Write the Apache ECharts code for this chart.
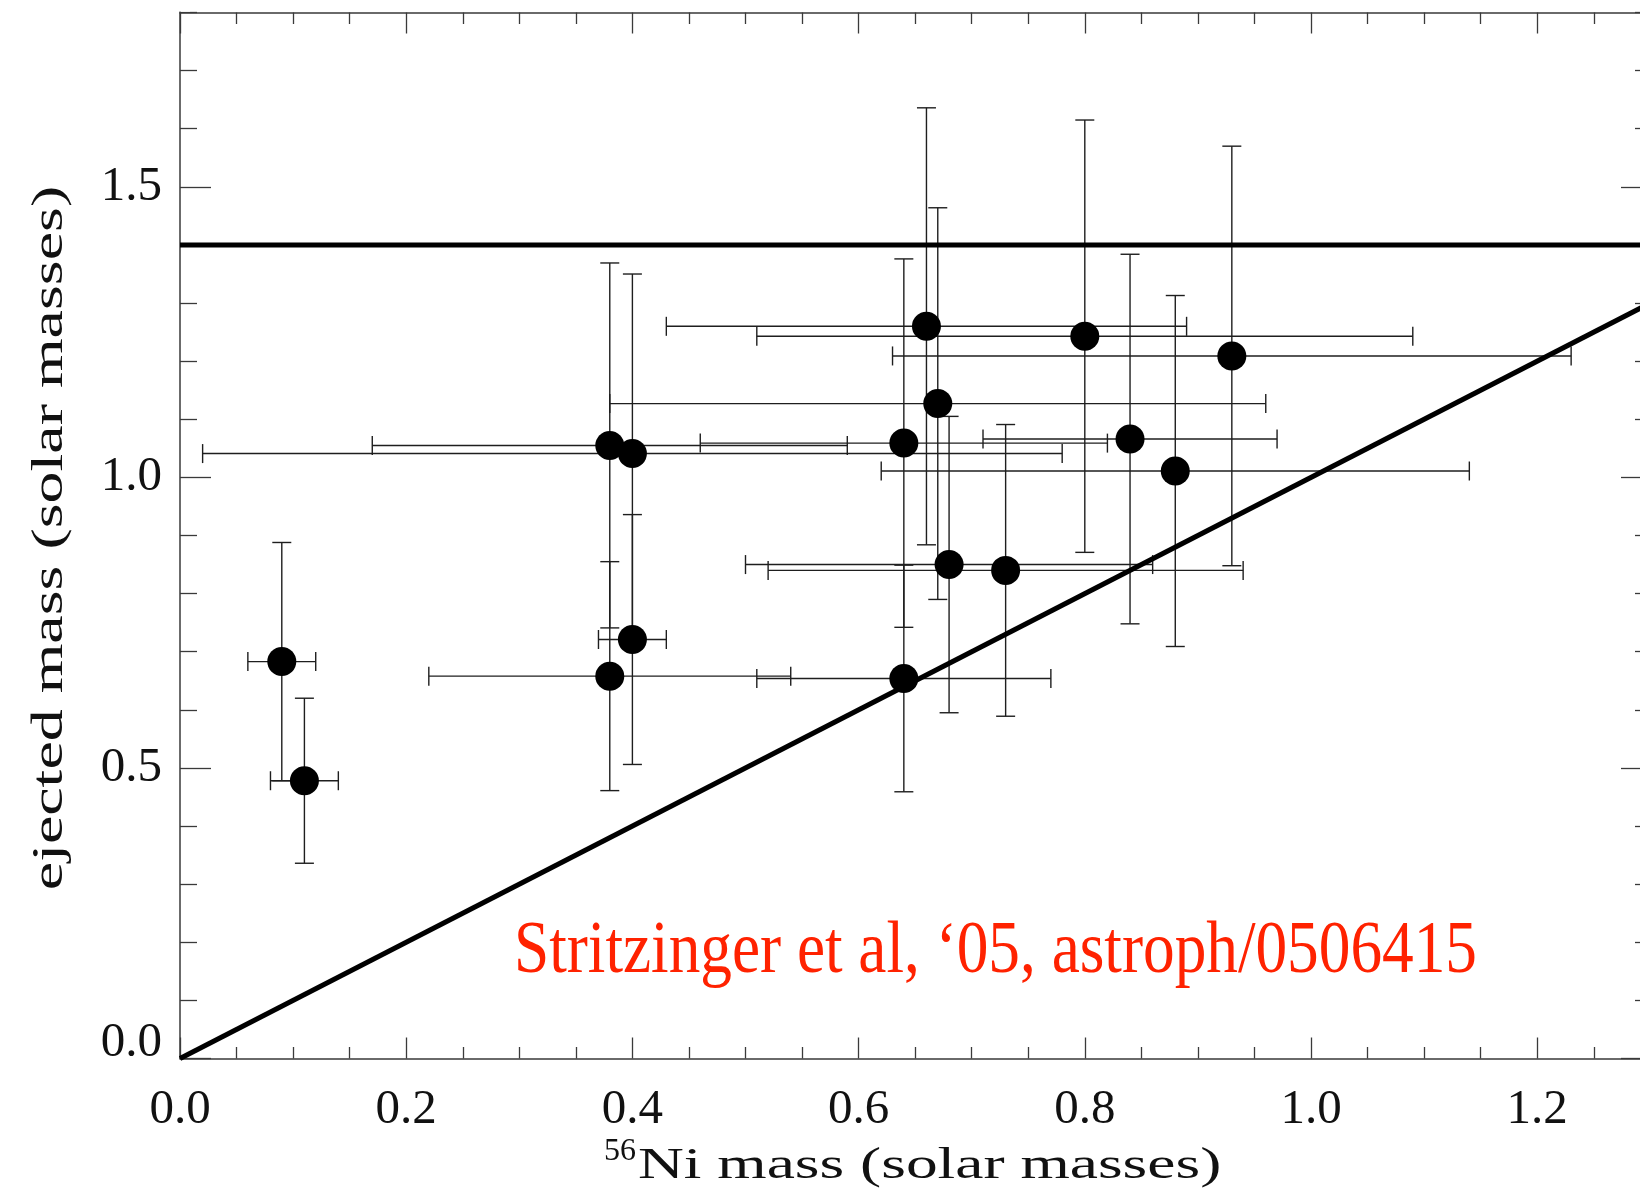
<!DOCTYPE html>
<html>
<head>
    <meta charset="UTF-8">
    <script src="https://cdn.jsdelivr.net/npm/echarts@6/dist/echarts.min.js"></script>
    <style>
        html, body { margin: 0; padding: 0; background: #fff; }
    </style>
</head>
<body>
    <div id="main" style="width: 1640px; height: 1194px;"></div>

    <script>
        // 56Ni mass vs ejected mass (solar masses)
        var niMass   = [0.09, 0.11, 0.38, 0.40, 0.40, 0.38, 0.64, 0.64, 0.84, 0.88, 0.66, 0.80, 0.93, 0.67, 0.68, 0.73];
        var ejMass   = [0.683, 0.478, 1.055, 1.041, 0.721, 0.658, 0.654, 1.059, 1.066, 1.011, 1.260, 1.243, 1.209, 1.127, 0.850, 0.840];
        var niErr    = [0.03, 0.03, 0.21, 0.38, 0.03, 0.16, 0.13, 0.18, 0.13, 0.26, 0.23, 0.29, 0.30, 0.29, 0.18, 0.21];
        var ejErr    = [0.205, 0.142, 0.314, 0.309, 0.215, 0.197, 0.195, 0.317, 0.318, 0.302, 0.376, 0.372, 0.361, 0.337, 0.255, 0.251];

        // reference lines: Chandrasekhar mass and ejected = Ni
        var chandraLine = [[0, 1.4], [1.4, 1.4]];
        var equalLine   = [[0, 0], [1.4, 1.4]];

        var noteText = 'Stritzinger et al, \u201805, astroph/0506415';

        var myChart = echarts.init(document.getElementById('main'));

        var pts = [];
        var errRows = [];
        for (var i = 0; i < niMass.length; i++) {
            pts.push([niMass[i], ejMass[i]]);
            errRows.push([niMass[i], ejMass[i], niErr[i], ejErr[i]]);
        }

        var serif = '"Liberation Serif", "Times New Roman", serif';
        var axisCol = '#3a3a3a';

        function errItem(params, api) {
            var x = api.value(0), y = api.value(1), ex = api.value(2), ey = api.value(3);
            var l = api.coord([x - ex, y]), r = api.coord([x + ex, y]);
            var t = api.coord([x, y + ey]), b = api.coord([x, y - ey]);
            var cap = 9.5;
            var st = { stroke: '#1e1e1e', lineWidth: 1.4, fill: null };
            return {
                type: 'group',
                children: [
                    { type: 'line', shape: { x1: l[0], y1: l[1], x2: r[0], y2: r[1] }, style: st },
                    { type: 'line', shape: { x1: l[0], y1: l[1] - cap, x2: l[0], y2: l[1] + cap }, style: st },
                    { type: 'line', shape: { x1: r[0], y1: r[1] - cap, x2: r[0], y2: r[1] + cap }, style: st },
                    { type: 'line', shape: { x1: t[0], y1: t[1], x2: b[0], y2: b[1] }, style: st },
                    { type: 'line', shape: { x1: t[0] - cap, y1: t[1], x2: t[0] + cap, y2: t[1] }, style: st },
                    { type: 'line', shape: { x1: b[0] - cap, y1: b[1], x2: b[0] + cap, y2: b[1] }, style: st }
                ]
            };
        }

        var xBase = {
            type: 'value', min: 0, max: 1.4, interval: 0.2,
            splitLine: { show: false },
            axisLine: { show: true, onZero: false, lineStyle: { color: axisCol, width: 1.5 } },
            axisTick: { show: true, inside: true, length: 21, lineStyle: { color: axisCol, width: 1.3 } },
            minorTick: { show: true, splitNumber: 4, length: 11.5, lineStyle: { color: axisCol, width: 1.3 } }
        };
        var yBase = {
            type: 'value', min: 0, max: 2.0, interval: 0.5,
            splitLine: { show: false },
            axisLine: { show: true, onZero: false, lineStyle: { color: axisCol, width: 1.5 } },
            axisTick: { show: true, inside: true, length: 31, lineStyle: { color: axisCol, width: 1.3 } },
            minorTick: { show: true, splitNumber: 5, length: 17, lineStyle: { color: axisCol, width: 1.3 } }
        };

        option = {
            animation: false,
            backgroundColor: '#fff',
            grid: {
                left: 180, right: -123.4, top: -103.7, bottom: 135.5,
                containLabel: false,
                outerBoundsMode: 'none'
            },
            xAxis: [
                Object.assign({}, xBase, {
                    position: 'bottom',
                    axisLabel: {
                        show: true, margin: 27, color: '#111', fontFamily: serif, fontSize: 49,
                        showMaxLabel: false,
                        formatter: function (v) { return v.toFixed(1); }
                    }
                }),
                Object.assign({}, xBase, {
                    position: 'top', offset: -116.2,
                    axisLabel: { show: false }
                })
            ],
            yAxis: [
                Object.assign({}, yBase, {
                    position: 'left',
                    axisLabel: {
                        show: true, margin: 18, color: '#111', fontFamily: serif, fontSize: 49,
                        showMaxLabel: false,
                        formatter: function (v) {
                            if (v === 0) return '{lo|0.0}';
                            return v.toFixed(1);
                        },
                        rich: {
                            lo: { color: '#111', fontFamily: serif, fontSize: 49, padding: [0, 0, 31, 0] }
                        }
                    }
                }),
                Object.assign({}, yBase, {
                    position: 'right', offset: -111.4,
                    axisLabel: { show: false }
                })
            ],
            graphic: [
                // hides the part of the left axis above the frame
                {
                    type: 'rect', x: 170, y: 0, z: 100,
                    shape: { width: 20, height: 11.6 },
                    style: { fill: '#fff' }
                },
                {
                    type: 'text', x: 50, y: 538, rotation: Math.PI / 2, scaleX: 1.42,
                    style: {
                        text: 'ejected mass (solar masses)', fill: '#111',
                        fontFamily: serif, fontSize: 45, align: 'center', verticalAlign: 'middle'
                    }
                },
                {
                    type: 'text', x: 604, y: 1152,
                    style: {
                        text: '56', fill: '#111',
                        fontFamily: serif, fontSize: 32, align: 'left', verticalAlign: 'middle'
                    }
                },
                {
                    type: 'text', x: 638, y: 1166, scaleX: 1.41,
                    style: {
                        text: 'Ni mass (solar masses)', fill: '#111',
                        fontFamily: serif, fontSize: 45, align: 'left', verticalAlign: 'middle'
                    }
                },
                {
                    type: 'text', x: 514, y: 953, scaleX: 0.855,
                    style: {
                        text: noteText, fill: '#ff2200',
                        fontFamily: serif, fontSize: 74, align: 'left', verticalAlign: 'middle'
                    }
                }
            ],
            series: [
                {
                    name: 'errors',
                    type: 'custom',
                    renderItem: errItem,
                    encode: { x: 0, y: 1 },
                    data: errRows,
                    silent: true,
                    z: 2
                },
                {
                    name: 'chandra',
                    type: 'line',
                    data: chandraLine,
                    symbol: 'none',
                    lineStyle: { color: '#000', width: 5 },
                    silent: true,
                    z: 3
                },
                {
                    name: 'equal',
                    type: 'line',
                    data: equalLine,
                    symbol: 'none',
                    lineStyle: { color: '#000', width: 5 },
                    silent: true,
                    z: 3
                },
                {
                    name: 'SNe',
                    type: 'scatter',
                    data: pts,
                    symbol: 'circle',
                    symbolSize: 29,
                    itemStyle: { color: '#000', opacity: 1 },
                    silent: true,
                    z: 4
                }
            ]
        };

        myChart.setOption(option);
    </script>
</body>
</html>
